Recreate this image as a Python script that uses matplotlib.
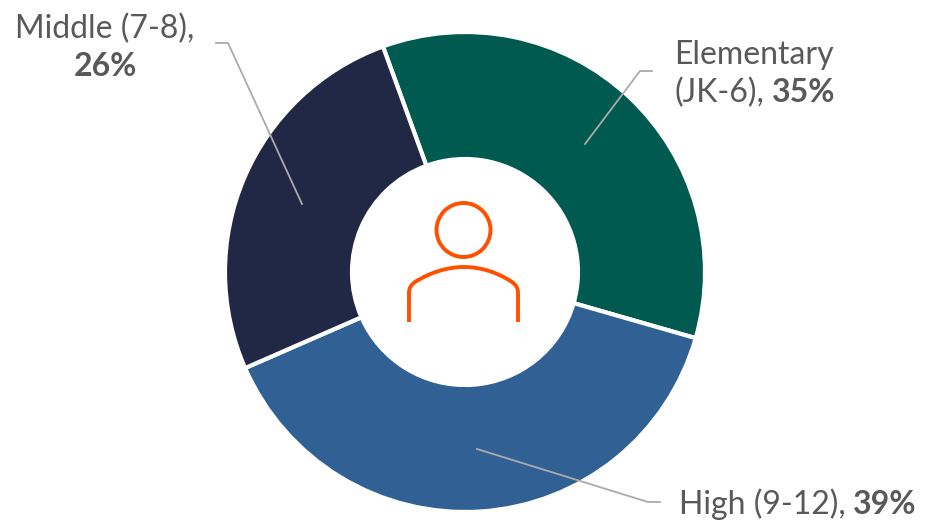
import matplotlib
matplotlib.use("Agg")
import matplotlib.pyplot as plt
from matplotlib.patches import Circle, PathPatch
from matplotlib.path import Path
from matplotlib.lines import Line2D

labels = ["Elementary (JK-6)", "High (9-12)", "Middle (7-8)"]
values = [35, 39, 26]
colors = ["#005A50", "#316094", "#212846"]

W, H = 936, 521
plt.rcParams['font.family'] = ['Lato', 'DejaVu Sans']
fig = plt.figure(figsize=(W/100, H/100), dpi=100)

cx, cy, R = 465, 272, 240
ax2 = fig.add_axes([(cx-R)/W, 1-(cy+R)/H, 2*R/W, 2*R/H])
ax2.pie(values, colors=colors, startangle=110, counterclock=False, radius=1,
        wedgeprops=dict(width=1-113/240, edgecolor='white', linewidth=3))
ax2.set_xlim(-1, 1)
ax2.set_ylim(-1, 1)
ax2.set_aspect('equal')

ax3 = fig.add_axes([0, 0, 1, 1])
ax3.set_xlim(0, W)
ax3.set_ylim(H, 0)
ax3.axis('off')
ax3.patch.set_alpha(0)

lc = '#ABABAB'
for xs, ys in [([585, 640, 652], [144, 71, 71]),
               ([302, 228, 216], [204, 43, 43]),
               ([477, 648, 660], [449, 502, 502])]:
    ax3.add_line(Line2D(xs, ys, color=lc, lw=1.3))

tc = '#595959'
fs = 23
ax3.text(105, 29, "Middle (7-8),", ha='center', va='center', fontsize=fs, color=tc)
ax3.text(105, 66, "26%", ha='center', va='center', fontsize=fs, color=tc, fontweight='bold')
ax3.text(754, 55, "Elementary", ha='center', va='center', fontsize=fs, color=tc)
ax3.text(674, 93, "(JK-6),", ha='left', va='center', fontsize=fs, color=tc)
ax3.text(772, 93, "35%", ha='left', va='center', fontsize=fs, color=tc, fontweight='bold')
ax3.text(679, 504, "High (9-12),", ha='left', va='center', fontsize=fs, color=tc)
ax3.text(853, 504, "39%", ha='left', va='center', fontsize=fs, color=tc, fontweight='bold')

ic = '#FF5000'
ax3.add_patch(Circle((463.5, 230), 27, fill=False, ec=ic, lw=2.8))
verts = [(409, 322), (409, 293),
         (409, 288), (411, 285), (415, 282),
         (431, 272), (448, 267), (464, 267),
         (480, 267), (497, 272), (512, 282),
         (516, 285), (518, 288), (518, 293),
         (518, 322)]
codes = [Path.MOVETO, Path.LINETO] + [Path.CURVE4]*12 + [Path.LINETO]
ax3.add_patch(PathPatch(Path(verts, codes), fill=False, ec=ic, lw=2.8, capstyle='butt'))

fig.savefig("out.png", dpi=100)
